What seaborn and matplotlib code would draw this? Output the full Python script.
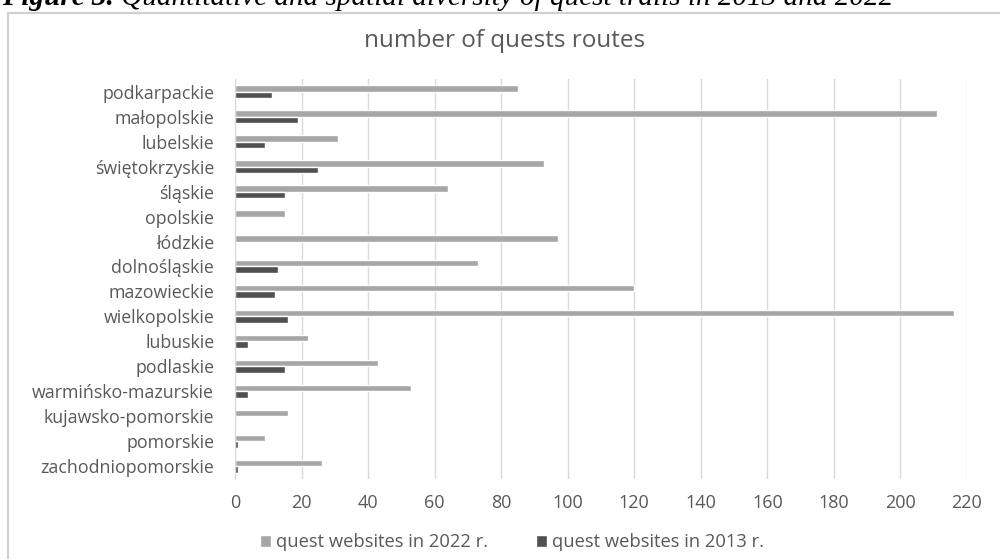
import matplotlib
matplotlib.use("Agg")
import matplotlib.pyplot as plt
import seaborn as sns
import pandas as pd
from matplotlib.patches import Rectangle

regions = ["podkarpackie", "małopolskie", "lubelskie", "świętokrzyskie", "śląskie",
           "opolskie", "łódzkie", "dolnośląskie", "mazowieckie", "wielkopolskie",
           "lubuskie", "podlaskie", "warmińsko-mazurskie", "kujawsko-pomorskie",
           "pomorskie", "zachodniopomorskie"]
quests_2022 = [85, 211, 31, 93, 64, 15, 97, 73, 120, 216, 22, 43, 53, 16, 9, 26]
quests_2013 = [11, 19, 9, 25, 15, 0, 0, 13, 12, 16, 4, 15, 4, 0, 1, 1]
series_names = ["quest websites in 2022 r.", "quest websites in 2013 r."]
x_ticks = list(range(0, 221, 20))

df = pd.DataFrame({
    "region": regions * 2,
    "value": quests_2022 + quests_2013,
    "series": [series_names[0]] * len(regions) + [series_names[1]] * len(regions),
})

sns.set_style("white")
plt.rcParams["font.family"] = ["Open Sans", "DejaVu Sans"]
TXT = "#595959"

fig = plt.figure(figsize=(10, 5.59), dpi=100)
ax = fig.add_axes([0.235, 0.144, 0.732, 0.714])

sns.barplot(data=df, y="region", x="value", hue="series", order=regions,
            hue_order=series_names, palette=["#a6a6a6", "#505050"],
            orient="h", width=0.52, saturation=1, ax=ax, legend=True)

ax.set_xlim(0, 220)
ax.set_xticks(x_ticks)
ax.set_xticklabels([str(t) for t in x_ticks])
ax.set_xlabel("")
ax.set_ylabel("")
ax.grid(axis="x", color="#d9d9d9", lw=1)
ax.set_axisbelow(True)
for s in ["top", "right", "bottom"]:
    ax.spines[s].set_visible(False)
ax.spines["left"].set_color("#d9d9d9")
ax.tick_params(axis="x", length=0, pad=11, labelsize=13, labelcolor=TXT)
ax.tick_params(axis="y", length=0, pad=15, labelsize=12.8, labelcolor=TXT)

leg = ax.legend(loc="center", bbox_to_anchor=(0.512, 0.030), bbox_transform=fig.transFigure,
                ncol=2, frameon=False, fontsize=13.2, handlelength=0.6, handleheight=0.6,
                columnspacing=2.6, handletextpad=0.3)
for t in leg.get_texts():
    t.set_color(TXT)

fig.text(0.505, 0.927, "number of quests routes", ha="center", va="center",
         fontsize=17.5, color=TXT)

# outer chart frame (only left and top visible)
fig.patches.append(Rectangle((0.008, -0.2), 1.2, 0.9775 + 0.2, transform=fig.transFigure,
                             fill=False, edgecolor="#d0d0d0", lw=1.5))

# partially clipped document caption
t1 = fig.text(0.002, 0.991, "Figure 3.", fontsize=21, fontweight="bold", fontstyle="italic",
              family="Liberation Serif", va="baseline", ha="left", color="black")
fig.canvas.draw()
bb = t1.get_window_extent()
x2 = fig.transFigure.inverted().transform((bb.x1, bb.y0))[0]
fig.text(x2, 0.991, " Quantitative and spatial diversity of quest trails in 2013 and 2022",
         fontsize=21, fontstyle="italic", family="Liberation Serif", va="baseline",
         ha="left", color="black")

fig.savefig("out.png", dpi=100)
